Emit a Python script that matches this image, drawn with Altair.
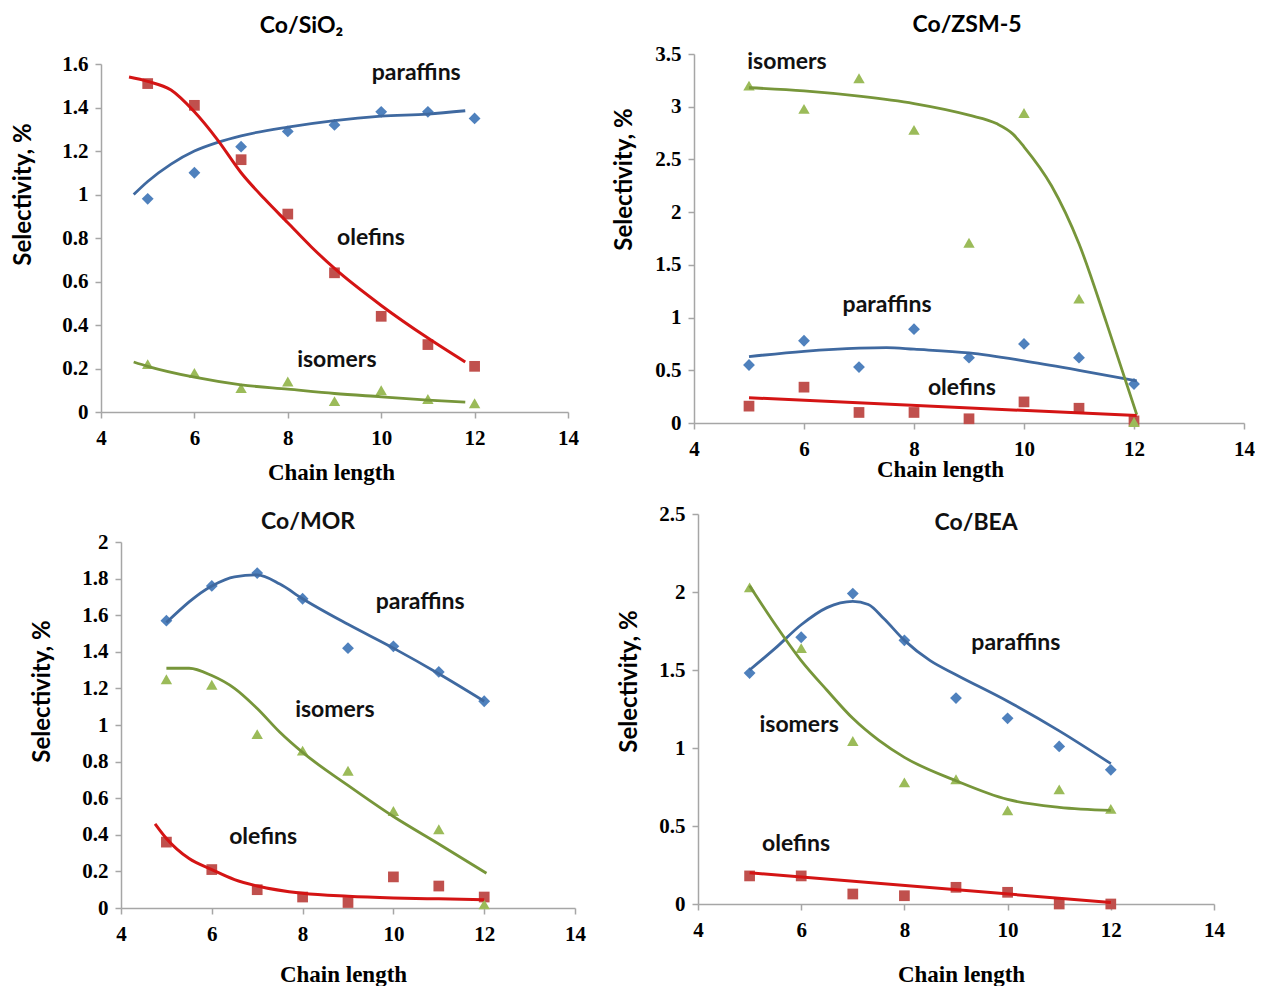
import altair as alt
import pandas as pd

chain = [5, 6, 7, 8, 9, 10, 11, 12]

# ---------------- Co/SiO2 ----------------
sio2_paraffins = [0.98, 1.10, 1.22, 1.29, 1.32, 1.38, 1.38, 1.35]
sio2_olefins = [1.51, 1.41, 1.16, 0.91, 0.64, 0.44, 0.31, 0.21]
sio2_isomers = [0.22, 0.18, 0.11, 0.14, 0.05, 0.10, 0.06, 0.04]
sio2_par_fit_x = [4.7, 5, 5.5, 6, 6.5, 7, 8, 9, 10, 11, 11.8]
sio2_par_fit_y = [1.00, 1.06, 1.14, 1.20, 1.24, 1.27, 1.31, 1.34, 1.36, 1.37, 1.385]
sio2_ole_fit_x = [4.6, 5, 5.5, 6, 6.5, 7, 7.5, 8, 8.5, 9, 10, 11, 11.8]
sio2_ole_fit_y = [1.54, 1.52, 1.48, 1.38, 1.25, 1.10, 0.98, 0.87, 0.76, 0.66, 0.49, 0.34, 0.23]
sio2_iso_fit_x = [4.7, 5, 6, 7, 8, 9, 10, 11, 11.8]
sio2_iso_fit_y = [0.23, 0.21, 0.16, 0.125, 0.105, 0.085, 0.07, 0.055, 0.045]

# ---------------- Co/ZSM-5 ----------------
zsm_paraffins = [0.55, 0.78, 0.53, 0.89, 0.62, 0.75, 0.62, 0.37]
zsm_olefins = [0.16, 0.34, 0.10, 0.10, 0.04, 0.20, 0.14, 0.02]
zsm_isomers = [3.20, 2.98, 3.27, 2.78, 1.71, 2.94, 1.18, 0.01]
zsm_par_fit_x = [5, 6, 7, 7.5, 8, 9, 10, 11, 12.05]
zsm_par_fit_y = [0.63, 0.68, 0.71, 0.715, 0.70, 0.665, 0.59, 0.50, 0.40]
zsm_ole_fit_x = [5, 12.05]
zsm_ole_fit_y = [0.24, 0.07]
zsm_iso_fit_x = [5, 6, 7, 8, 9, 9.5, 9.8, 10, 10.5, 11, 11.5, 12.05]
zsm_iso_fit_y = [3.18, 3.15, 3.10, 3.03, 2.92, 2.84, 2.74, 2.62, 2.25, 1.70, 0.95, 0.08]

# ---------------- Co/MOR ----------------
mor_paraffins = [1.57, 1.76, 1.83, 1.69, 1.42, 1.43, 1.29, 1.13]
mor_olefins = [0.36, 0.21, 0.10, 0.06, 0.03, 0.17, 0.12, 0.06]
mor_isomers = [1.25, 1.22, 0.95, 0.86, 0.75, 0.53, 0.43, 0.02]
mor_par_fit_x = [5, 6, 6.5, 7, 7.5, 8, 9, 10, 11, 12]
mor_par_fit_y = [1.56, 1.76, 1.81, 1.82, 1.77, 1.69, 1.55, 1.42, 1.28, 1.13]
mor_ole_fit_x = [4.75, 5, 5.5, 6, 6.5, 7, 8, 9, 10, 11, 12]
mor_ole_fit_y = [0.46, 0.38, 0.27, 0.21, 0.155, 0.12, 0.08, 0.064, 0.055, 0.05, 0.045]
mor_iso_fit_x = [5, 5.5, 6, 6.5, 7, 7.5, 8, 9, 10, 11, 12.05]
mor_iso_fit_y = [1.31, 1.31, 1.27, 1.20, 1.09, 0.96, 0.85, 0.67, 0.50, 0.35, 0.19]

# ---------------- Co/BEA ----------------
bea_paraffins = [1.48, 1.71, 1.99, 1.69, 1.32, 1.19, 1.01, 0.86]
bea_olefins = [0.18, 0.18, 0.064, 0.053, 0.107, 0.075, 0.0, 0.0]
bea_isomers = [2.03, 1.64, 1.045, 0.78, 0.80, 0.60, 0.735, 0.61]
bea_par_fit_x = [5, 5.5, 6, 6.5, 7, 7.3, 7.6, 8, 8.5, 9, 10, 11, 12]
bea_par_fit_y = [1.50, 1.64, 1.79, 1.90, 1.94, 1.92, 1.83, 1.69, 1.56, 1.47, 1.30, 1.11, 0.90]
bea_ole_fit_x = [5, 12]
bea_ole_fit_y = [0.20, 0.01]
bea_iso_fit_x = [5, 5.5, 6, 6.5, 7, 7.5, 8, 9, 10, 11, 12]
bea_iso_fit_y = [2.04, 1.79, 1.56, 1.37, 1.19, 1.05, 0.94, 0.79, 0.67, 0.62, 0.60]

# annotation labels: (text, x, y)
sio2_labels = [("paraffins", 10.75, 1.56), ("olefins", 9.78, 0.80), ("isomers", 9.05, 0.24)]
zsm_labels = [("isomers", 5.69, 3.42), ("paraffins", 7.51, 1.12), ("olefins", 8.87, 0.33)]
mor_labels = [("paraffins", 10.59, 1.67), ("isomers", 8.71, 1.08), ("olefins", 7.13, 0.39),
              ("Co/MOR", 8.12, 2.11)]
bea_labels = [("paraffins", 10.16, 1.67), ("isomers", 5.96, 1.15), ("olefins", 5.90, 0.385),
              ("Co/BEA", 9.39, 2.44)]

PAR_PT, OLE_PT, ISO_PT = "#4f81bd", "#c0504d", "#9bbb59"
PAR_LN, OLE_LN, ISO_LN = "#3f69a0", "#d41414", "#77963a"
AXIS_C = "#a6a6a6"
SERIF = "Liberation Serif"
SANS = "Lato"


def panel(par, ole, iso, fits, labels, ymax, ystep, gw, gh, xrange, yrange,
          yoff, ytx, yty, xtx, xty, title=None):
    ticks_y = [round(i * ystep, 2) for i in range(int(round(ymax / ystep)) + 1)]
    xaxis = alt.Axis(values=[4, 6, 8, 10, 12, 14], title="Chain length", grid=False,
                     titleFont=SERIF, titleFontSize=23, titleFontWeight="bold",
                     titleColor="black", titleX=xtx, titleY=xty, titleBaseline="middle",
                     titleAlign="center",
                     labelFont=SERIF, labelFontSize=21, labelFontWeight="bold",
                     labelColor="black", labelPadding=9, labelFlush=False,
                     labelOverlap=False, tickSize=6, tickColor=AXIS_C, tickWidth=1.5,
                     domainColor=AXIS_C, domainWidth=1.5)
    yaxis = alt.Axis(values=ticks_y, title="Selectivity, %", grid=False, offset=yoff,
                     labelExpr="format(datum.value, '.2~f')",
                     titleFont=SANS, titleFontSize=24, titleFontWeight="bold",
                     titleColor="black", titleX=ytx, titleY=yty, titleBaseline="middle",
                     titleAlign="center", titleAngle=270,
                     labelFont=SERIF, labelFontSize=21, labelFontWeight="bold",
                     labelColor="black", labelPadding=7, labelFlush=False,
                     labelOverlap=False, tickSize=6, tickColor=AXIS_C, tickWidth=1.5,
                     domainColor=AXIS_C, domainWidth=1.5)
    xs = alt.Scale(domain=[4, 14], nice=False, zero=False, range=xrange)
    ys = alt.Scale(domain=[0, ymax], nice=False, range=yrange)
    X = alt.X("x:Q", scale=xs, axis=xaxis)
    Y = alt.Y("y:Q", scale=ys, axis=yaxis)

    layers = []
    for vals, shape, color, size in [(par, "diamond", PAR_PT, 140),
                                     (ole, "square", OLE_PT, 115),
                                     (iso, "triangle-up", ISO_PT, 130)]:
        df = pd.DataFrame({"x": chain, "y": vals})
        layers.append(alt.Chart(df).mark_point(shape=shape, filled=True, size=size,
                                               color=color, opacity=1, clip=False)
                      .encode(x=X, y=Y))
    for (fx, fy), color, w in zip(fits, [PAR_LN, ISO_LN, OLE_LN], [2.8, 2.8, 3.0]):
        df = pd.DataFrame({"x": fx, "y": fy})
        layers.append(alt.Chart(df).mark_line(color=color, strokeWidth=w,
                                              interpolate="monotone")
                      .encode(x=X, y=Y))
    ldf = pd.DataFrame({"t": [l[0] for l in labels], "x": [l[1] for l in labels],
                        "y": [l[2] for l in labels]})
    layers.append(alt.Chart(ldf).mark_text(font=SANS, fontSize=23, fontWeight="bold",
                                           color="#111111", align="center",
                                           baseline="middle")
                  .encode(x=X, y=Y, text="t:N"))
    props = dict(width=gw, height=gh)
    if title is not None:
        props["title"] = title
    return alt.layer(*layers).properties(**props)


def ttl(text, dx, offset):
    return alt.TitleParams(text=text, font=SANS, fontSize=23, fontWeight="bold",
                           color="black", anchor="middle", frame="group", dx=dx,
                           offset=offset)


# top row: group tops at y=55 (page), SiO2 data area starts 10px lower
p1 = panel(sio2_paraffins, sio2_olefins, sio2_isomers,
           [(sio2_par_fit_x, sio2_par_fit_y), (sio2_iso_fit_x, sio2_iso_fit_y),
            (sio2_ole_fit_x, sio2_ole_fit_y)],
           sio2_labels, 1.6, 0.2, 467, 358, [0, 467], [358, 10], 0,
           -78, 140, 230, 60, ttl("Co/SiO₂", -33, 15))
p2 = panel(zsm_paraffins, zsm_olefins, zsm_isomers,
           [(zsm_par_fit_x, zsm_par_fit_y), (zsm_iso_fit_x, zsm_iso_fit_y),
            (zsm_ole_fit_x, zsm_ole_fit_y)],
           zsm_labels, 3.5, 0.5, 550, 369, [0, 550], [369, 0], 0,
           -70, 125, 246, 46, ttl("Co/ZSM-5", -2, 6))
# bottom row: group tops at y=513 (page); MOR data area shifted 20px right, 28px down
p3 = panel(mor_paraffins, mor_olefins, mor_isomers,
           [(mor_par_fit_x, mor_par_fit_y), (mor_iso_fit_x, mor_iso_fit_y),
            (mor_ole_fit_x, mor_ole_fit_y)],
           mor_labels, 2.0, 0.2, 474, 394, [20, 474], [394, 28], -20,
           -79, 177, 242, 66)
p4 = panel(bea_paraffins, bea_olefins, bea_isomers,
           [(bea_par_fit_x, bea_par_fit_y), (bea_iso_fit_x, bea_iso_fit_y),
            (bea_ole_fit_x, bea_ole_fit_y)],
           bea_labels, 2.5, 0.5, 516, 390, [0, 516], [390, 0], 0,
           -69, 167, 263, 70)

top = alt.hconcat(p1, p2, spacing=33)
bottom = alt.hconcat(p3, p4, spacing=31)
chart = (alt.vconcat(top, bottom, spacing=19)
         .properties(padding={"left": 3, "top": 6, "right": 0, "bottom": 0},
                     background="white")
         .configure_view(stroke=None))

chart.save("out.html", embed_options={"renderer": "svg", "actions": False})
